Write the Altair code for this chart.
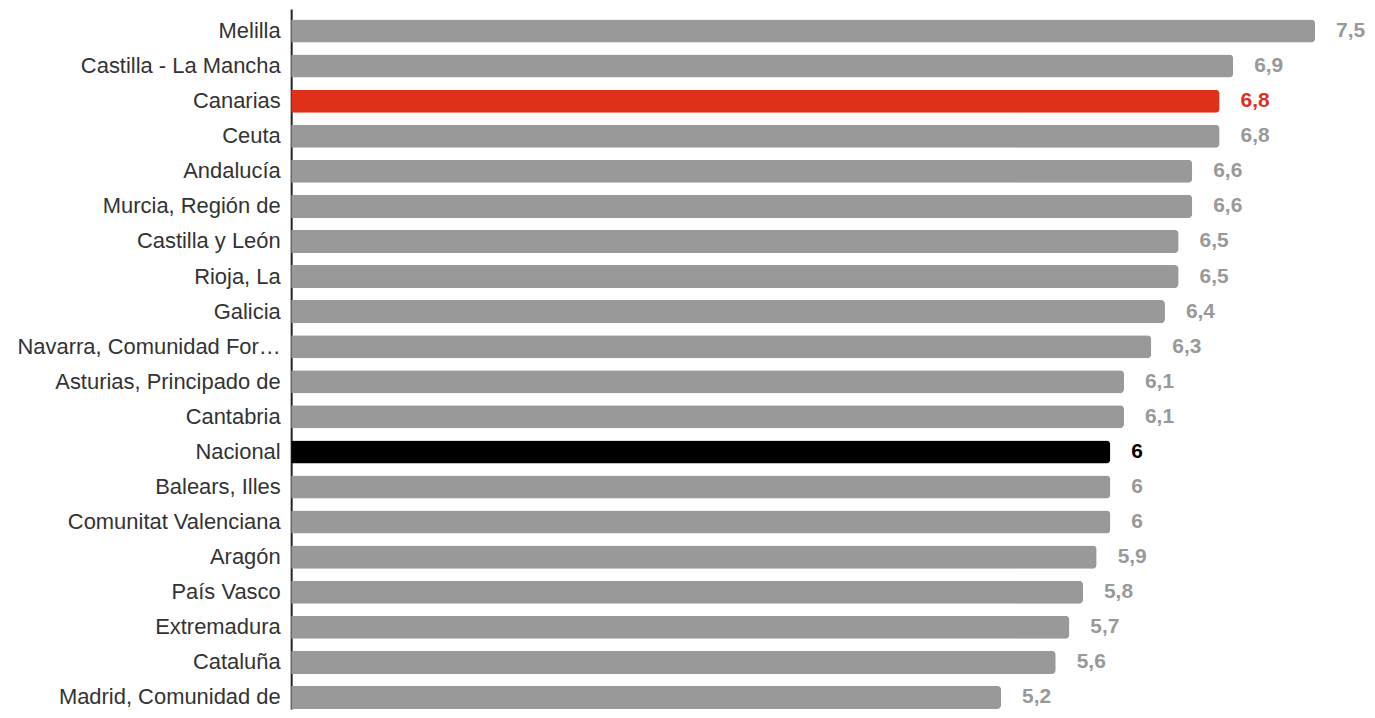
import altair as alt
import pandas as pd

regiones = [
    "Melilla", "Castilla - La Mancha", "Canarias", "Ceuta", "Andalucía",
    "Murcia, Región de", "Castilla y León", "Rioja, La", "Galicia",
    "Navarra, Comunidad Foral de", "Asturias, Principado de", "Cantabria",
    "Nacional", "Balears, Illes", "Comunitat Valenciana", "Aragón",
    "País Vasco", "Extremadura", "Cataluña", "Madrid, Comunidad de",
]
valores = [7.5, 6.9, 6.8, 6.8, 6.6, 6.6, 6.5, 6.5, 6.4, 6.3, 6.1, 6.1,
           6.0, 6.0, 6.0, 5.9, 5.8, 5.7, 5.6, 5.2]
tipos = ["otro" if r not in ("Canarias", "Nacional") else r.lower() for r in regiones]

tipo_dominio = ["otro", "canarias", "nacional"]
barra_colores = ["#999999", "#e1301a", "#000000"]
texto_colores = ["#999999", "#e1301a", "#000000"]

df = pd.DataFrame({"region": regiones, "valor": valores, "tipo": tipos})

y_enc = alt.Y(
    "region:N", sort=None, title=None,
    scale=alt.Scale(paddingInner=0.343, paddingOuter=0.149, align=1),
    axis=alt.Axis(
        ticks=False, labelPadding=11, labelLimit=268, labelFontSize=22,
        labelFont="Liberation Sans", labelColor="#333333",
        domainColor="#222222", domainWidth=2, grid=False,
    ),
)
x_enc = alt.X("valor:Q", scale=alt.Scale(domain=[0, 7.5], nice=False), axis=None)

bars = alt.Chart(df).mark_bar(cornerRadiusEnd=4).encode(
    y=y_enc, x=x_enc,
    color=alt.Color("tipo:N", scale=alt.Scale(domain=tipo_dominio, range=barra_colores), legend=None),
)

labels = alt.Chart(df).transform_calculate(
    etiqueta="replace(toString(datum.valor), '.', ',')"
).mark_text(
    align="left", baseline="middle", dx=21, fontSize=21, fontWeight="bold",
    font="Liberation Sans",
).encode(
    y=alt.Y("region:N", sort=None), x="valor:Q", text="etiqueta:N",
    color=alt.Color("tipo:N", scale=alt.Scale(domain=tipo_dominio, range=texto_colores), legend=None),
)

chart = alt.layer(bars, labels).resolve_scale(color="independent").properties(
    width=1027, height=702,
    autosize="none",
    padding={"left": 284, "top": 0, "right": 52, "bottom": 0},
).configure(background="white").configure_view(strokeWidth=0, stroke="transparent")

chart.save("out.html", embed_options={"renderer": "svg", "actions": False})
